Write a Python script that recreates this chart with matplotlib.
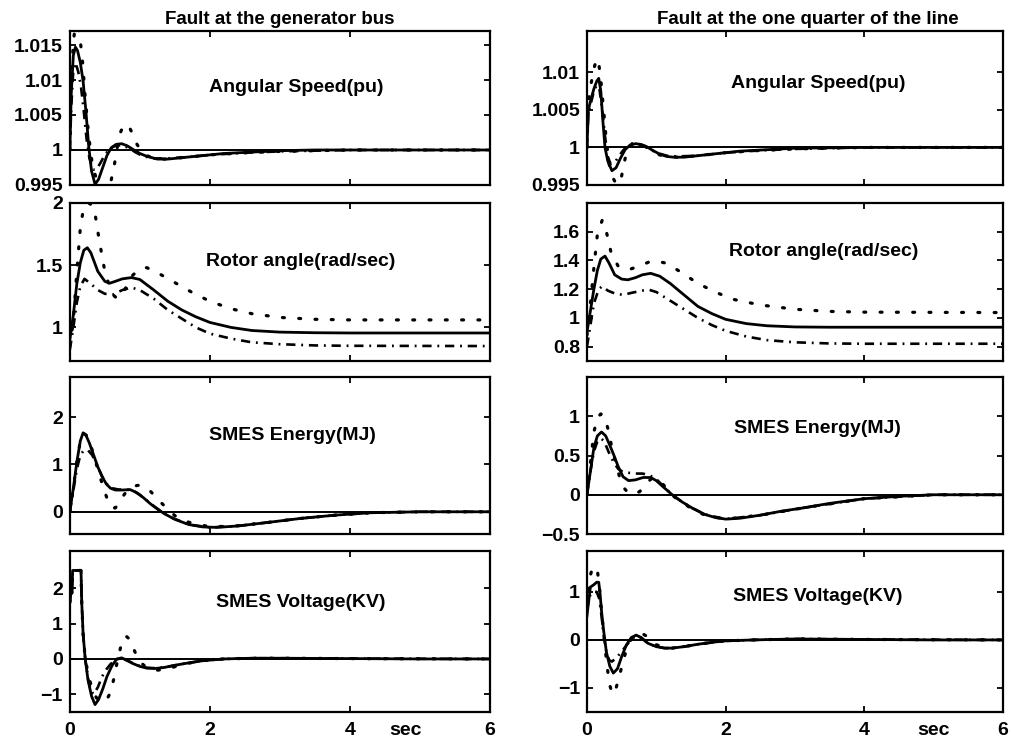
"""
SMES transient response: fault at generator bus vs fault at one quarter of the line.
"""

import matplotlib
matplotlib.use('Agg')
import matplotlib.pyplot as plt
import matplotlib.transforms as mtransforms

plt.rcParams['font.family'] = ['Liberation Sans', 'DejaVu Sans']
plt.rcParams['font.weight'] = 'bold'

# ---------------- data ----------------
# Left column: fault at the generator bus
t_L1_solid = [0, 0.02, 0.05, 0.08, 0.11, 0.15, 0.19, 0.23, 0.27, 0.31, 0.36, 0.41, 0.47, 0.53, 0.59, 0.66,
              0.74, 0.82, 0.9, 1.0, 1.1, 1.25, 1.4, 1.6, 1.9, 2.2, 2.6, 3.0, 3.5, 4.0, 5.0, 6.0]
L1_solid = [1.0, 1.008, 1.0135, 1.0147, 1.0142, 1.0125, 1.0098, 1.0055, 1.0005, 0.997, 0.9951, 0.9958, 0.9975,
            0.9992, 1.0003, 1.0008, 1.0009, 1.0006, 1.0001, 0.9995, 0.9991, 0.9987, 0.9987, 0.9989, 0.9992,
            0.9995, 0.9997, 0.9999, 1.0, 1.0, 1.0, 1.0]
t_L1_dashdot = [0, 0.02, 0.05, 0.08, 0.12, 0.16, 0.2, 0.24, 0.28, 0.33, 0.38, 0.44, 0.5, 0.57, 0.65, 0.74,
                0.84, 0.95, 1.05, 1.2, 1.4, 1.7, 2.0, 2.5, 3.0, 4.0, 6.0]
L1_dashdot = [1.0, 1.006, 1.0115, 1.0125, 1.0112, 1.009, 1.0055, 1.0015, 0.9988, 0.9972, 0.9972, 0.9982,
              0.9993, 1.0002, 1.0006, 1.0007, 1.0003, 0.9996, 0.9991, 0.9988, 0.9988, 0.999, 0.9993, 0.9996,
              0.9998, 1.0, 1.0]
t_L1_dotted = [0, 0.02, 0.05, 0.08, 0.11, 0.14, 0.18, 0.22, 0.27, 0.32, 0.38, 0.45, 0.52, 0.58, 0.63, 0.68,
               0.73, 0.78, 0.84, 0.9, 0.96, 1.02, 1.1, 1.2, 1.35, 1.6, 2.0, 2.5, 3.0, 4.0, 6.0]
L1_dotted = [1.0, 1.009, 1.0155, 1.0178, 1.0178, 1.0165, 1.0128, 1.0075, 1.002, 0.998, 0.9958, 0.9947,
             0.9942, 0.9952, 0.9975, 1.0005, 1.0027, 1.0036, 1.0035, 1.0022, 1.0008, 0.9999, 0.9992, 0.9988,
             0.9987, 0.9989, 0.9993, 0.9996, 0.9998, 1.0, 1.0]

t_L2_solid = [0, 0.05, 0.1, 0.15, 0.2, 0.25, 0.3, 0.4, 0.5, 0.57, 0.65, 0.75, 0.88, 1.0, 1.2, 1.4, 1.6, 1.8,
              2.0, 2.3, 2.6, 3.0, 3.5, 4.0, 6.0]
L2_solid = [0.9, 1.1, 1.35, 1.52, 1.62, 1.64, 1.6, 1.45, 1.37, 1.355, 1.37, 1.39, 1.4, 1.385, 1.3, 1.21, 1.14,
            1.085, 1.04, 1.0, 0.975, 0.962, 0.957, 0.955, 0.955]
t_L2_dashdot = [0, 0.05, 0.1, 0.15, 0.21, 0.3, 0.4, 0.5, 0.62, 0.75, 0.88, 1.0, 1.2, 1.4, 1.6, 1.8, 2.0, 2.3,
                2.6, 3.0, 3.5, 4.0, 6.0]
L2_dashdot = [0.82, 1.0, 1.2, 1.33, 1.39, 1.35, 1.3, 1.27, 1.265, 1.3, 1.32, 1.3, 1.23, 1.14, 1.07, 1.0, 0.95,
              0.91, 0.88, 0.865, 0.855, 0.852, 0.85]
t_L2_dotted = [0, 0.05, 0.1, 0.15, 0.2, 0.28, 0.35, 0.42, 0.5, 0.6, 0.68, 0.78, 0.9, 1.0, 1.1, 1.25, 1.5, 1.75,
               2.0, 2.3, 2.6, 3.0, 3.5, 4.0, 6.0]
L2_dotted = [0.85, 1.05, 1.45, 1.8, 1.97, 2.0, 1.95, 1.7, 1.45, 1.27, 1.23, 1.3, 1.42, 1.47, 1.48, 1.44, 1.36,
             1.28, 1.21, 1.15, 1.11, 1.08, 1.065, 1.06, 1.06]

t_L3_solid = [0, 0.05, 0.1, 0.15, 0.19, 0.23, 0.28, 0.34, 0.4, 0.46, 0.52, 0.58, 0.65, 0.75, 0.86, 0.95, 1.05,
              1.15, 1.25, 1.35, 1.5, 1.7, 1.9, 2.1, 2.4, 2.8, 3.3, 3.8, 4.3, 5.0, 6.0]
L3_solid = [0, 0.5, 1.05, 1.5, 1.67, 1.62, 1.45, 1.2, 0.95, 0.75, 0.59, 0.5, 0.46, 0.46, 0.47, 0.41, 0.3, 0.17,
            0.06, -0.04, -0.16, -0.27, -0.32, -0.33, -0.3, -0.23, -0.14, -0.07, -0.02, 0, 0]
t_L3_dashdot = [0, 0.05, 0.1, 0.15, 0.2, 0.26, 0.32, 0.4, 0.46, 0.52, 0.6, 0.7, 0.8, 0.9, 1.0, 1.1, 1.2, 1.3,
                1.45, 1.7, 2.0, 2.4, 2.8, 3.3, 3.8, 4.3, 5.0, 6.0]
L3_dashdot = [0, 0.45, 0.9, 1.2, 1.3, 1.3, 1.2, 0.95, 0.75, 0.6, 0.5, 0.47, 0.47, 0.45, 0.36, 0.24, 0.12, 0.01,
              -0.12, -0.27, -0.33, -0.3, -0.23, -0.14, -0.07, -0.02, 0, 0]
t_L3_dotted = [0, 0.05, 0.1, 0.15, 0.2, 0.25, 0.3, 0.36, 0.42, 0.48, 0.54, 0.6, 0.65, 0.7, 0.76, 0.82, 0.9,
               0.98, 1.06, 1.14, 1.22, 1.3, 1.4, 1.5, 1.6, 1.8, 2.0, 2.3, 2.8, 3.3, 3.8, 4.3, 5.0, 6.0]
L3_dotted = [0, 0.5, 1.05, 1.5, 1.66, 1.6, 1.4, 1.1, 0.8, 0.5, 0.25, 0.09, 0.08, 0.18, 0.33, 0.45, 0.54, 0.56,
             0.53, 0.45, 0.33, 0.2, 0.05, -0.08, -0.17, -0.27, -0.31, -0.31, -0.23, -0.14, -0.07, -0.02, 0, 0]

t_L4_solid = [0, 0.02, 0.03, 0.04, 0.16, 0.17, 0.19, 0.22, 0.26, 0.31, 0.36, 0.41, 0.47, 0.53, 0.6, 0.67, 0.74,
              0.82, 0.9, 1.0, 1.1, 1.22, 1.35, 1.5, 1.7, 1.9, 2.2, 2.6, 3.0, 4.0, 5.0, 6.0]
L4_solid = [1.6, 2.0, 1.85, 2.5, 2.5, 1.6, 0.7, 0.0, -0.6, -1.05, -1.29, -1.15, -0.85, -0.5, -0.2, 0.0, 0.03,
            -0.04, -0.13, -0.21, -0.26, -0.27, -0.24, -0.18, -0.11, -0.05, 0.0, 0.02, 0.02, 0.01, 0, 0]
t_L4_dashdot = [0, 0.02, 0.03, 0.04, 0.16, 0.17, 0.19, 0.22, 0.26, 0.3, 0.34, 0.4, 0.46, 0.52, 0.58, 0.65,
                0.72, 0.8, 0.9, 1.0, 1.1, 1.22, 1.35, 1.5, 1.7, 1.9, 2.2, 2.6, 3.0, 4.0, 6.0]
L4_dashdot = [1.6, 2.0, 1.85, 2.5, 2.5, 1.6, 0.7, 0.0, -0.55, -0.9, -1.0, -0.8, -0.5, -0.3, -0.15, -0.03, 0.02,
              -0.03, -0.12, -0.2, -0.25, -0.26, -0.24, -0.18, -0.11, -0.05, 0, 0.02, 0.02, 0.01, 0]
t_L4_dotted = [0, 0.02, 0.03, 0.04, 0.16, 0.17, 0.19, 0.22, 0.27, 0.32, 0.38, 0.45, 0.52, 0.58, 0.63, 0.68,
               0.74, 0.8, 0.86, 0.93, 1.0, 1.1, 1.22, 1.35, 1.5, 1.7, 1.9, 2.2, 2.6, 3.0, 4.0, 6.0]
L4_dotted = [1.6, 2.0, 1.85, 2.5, 2.5, 1.6, 0.7, 0.0, -0.5, -0.85, -1.1, -1.2, -1.18, -0.95, -0.55, -0.05, 0.45,
             0.65, 0.55, 0.2, -0.08, -0.25, -0.32, -0.3, -0.22, -0.12, -0.05, 0.0, 0.02, 0.02, 0.01, 0]

# Right column: fault at one quarter of the line
t_R1_solid = [0, 0.02, 0.06, 0.1, 0.14, 0.17, 0.2, 0.23, 0.26, 0.3, 0.36, 0.42, 0.48, 0.55, 0.62, 0.7, 0.78,
              0.86, 0.95, 1.05, 1.15, 1.25, 1.4, 1.6, 1.9, 2.2, 2.6, 3.0, 4.0, 6.0]
R1_solid = [1.0, 1.005, 1.0065, 1.0078, 1.0088, 1.0092, 1.0075, 1.0035, 1.0, 0.9982, 0.9969, 0.9973, 0.9985,
            0.9997, 1.0003, 1.0005, 1.0004, 1.0001, 0.9996, 0.9991, 0.9988, 0.9987, 0.9987, 0.9989, 0.9992,
            0.9995, 0.9997, 0.9999, 1.0, 1.0]
t_R1_dashdot = [0, 0.02, 0.06, 0.1, 0.14, 0.18, 0.22, 0.26, 0.3, 0.34, 0.4, 0.46, 0.52, 0.6, 0.7, 0.8, 0.9,
                1.0, 1.15, 1.3, 1.6, 2.0, 2.5, 3.0, 4.0, 6.0]
R1_dashdot = [1.0, 1.0045, 1.006, 1.0075, 1.0083, 1.0078, 1.005, 1.0015, 0.9988, 0.9978, 0.998, 0.9988, 0.9996,
              1.0003, 1.0005, 1.0003, 0.9998, 0.9993, 0.9989, 0.9988, 0.9989, 0.9993, 0.9996, 0.9998, 1.0, 1.0]
t_R1_dotted = [0, 0.02, 0.06, 0.1, 0.14, 0.17, 0.2, 0.24, 0.28, 0.32, 0.37, 0.42, 0.46, 0.5, 0.55, 0.6, 0.66,
               0.72, 0.8, 0.88, 0.96, 1.05, 1.15, 1.3, 1.6, 2.0, 2.5, 3.0, 4.0, 6.0]
R1_dotted = [1.0, 1.006, 1.0085, 1.0105, 1.0118, 1.0112, 1.009, 1.005, 1.0008, 0.9978, 0.996, 0.9952, 0.9951,
             0.9962, 0.9985, 0.9999, 1.0006, 1.0007, 1.0004, 0.9999, 0.9994, 0.999, 0.9988, 0.9987, 0.9989,
             0.9993, 0.9996, 0.9998, 1.0, 1.0]

t_R2_solid = [0, 0.05, 0.1, 0.15, 0.2, 0.26, 0.32, 0.4, 0.5, 0.59, 0.7, 0.8, 0.92, 1.05, 1.2, 1.4, 1.6, 1.8,
              2.0, 2.3, 2.6, 3.0, 3.5, 6.0]
R2_solid = [0.9, 1.05, 1.2, 1.33, 1.41, 1.43, 1.38, 1.3, 1.27, 1.265, 1.28, 1.3, 1.31, 1.29, 1.24, 1.16, 1.08,
            1.03, 0.99, 0.96, 0.945, 0.937, 0.935, 0.935]
t_R2_dashdot = [0, 0.05, 0.1, 0.17, 0.22, 0.3, 0.4, 0.52, 0.65, 0.8, 0.9, 1.0, 1.2, 1.4, 1.6, 1.8, 2.0, 2.3,
                2.6, 3.0, 3.5, 4.0, 6.0]
R2_dashdot = [0.8, 0.95, 1.1, 1.2, 1.22, 1.19, 1.17, 1.16, 1.175, 1.19, 1.195, 1.18, 1.12, 1.06, 1.0, 0.95,
              0.91, 0.87, 0.845, 0.83, 0.822, 0.82, 0.82]
t_R2_dotted = [0, 0.05, 0.1, 0.15, 0.22, 0.28, 0.35, 0.45, 0.6, 0.75, 0.9, 1.0, 1.15, 1.35, 1.6, 1.85, 2.1,
               2.5, 3.0, 3.5, 4.0, 6.0]
R2_dotted = [0.88, 1.1, 1.35, 1.58, 1.68, 1.6, 1.45, 1.36, 1.335, 1.36, 1.39, 1.395, 1.38, 1.32, 1.24, 1.18,
             1.13, 1.09, 1.06, 1.045, 1.04, 1.037]

t_R3_solid = [0, 0.05, 0.1, 0.15, 0.21, 0.27, 0.33, 0.39, 0.45, 0.52, 0.6, 0.7, 0.81, 0.92, 1.0, 1.1, 1.23,
              1.37, 1.52, 1.7, 1.85, 2.0, 2.2, 2.5, 2.8, 3.1, 3.5, 4.0, 4.5, 5.0, 6.0]
R3_solid = [0, 0.3, 0.6, 0.75, 0.8, 0.75, 0.63, 0.5, 0.36, 0.23, 0.18, 0.19, 0.22, 0.22, 0.18, 0.1, 0.0, -0.09,
            -0.17, -0.25, -0.29, -0.31, -0.3, -0.26, -0.21, -0.17, -0.11, -0.05, -0.02, 0, 0]
t_R3_dashdot = [0, 0.05, 0.1, 0.15, 0.2, 0.25, 0.31, 0.38, 0.45, 0.52, 0.6, 0.7, 0.8, 0.9, 1.0, 1.1, 1.23,
                1.37, 1.52, 1.7, 2.0, 2.5, 3.1, 4.0, 5.0, 6.0]
R3_dashdot = [0, 0.3, 0.55, 0.68, 0.72, 0.68, 0.55, 0.42, 0.33, 0.29, 0.28, 0.27, 0.27, 0.25, 0.2, 0.11, 0.0,
              -0.09, -0.17, -0.25, -0.31, -0.26, -0.17, -0.05, 0, 0]
t_R3_dotted = [0, 0.05, 0.1, 0.15, 0.2, 0.25, 0.3, 0.36, 0.42, 0.48, 0.54, 0.6, 0.68, 0.76, 0.84, 0.92, 1.0,
               1.08, 1.16, 1.25, 1.37, 1.52, 1.7, 2.0, 2.5, 3.1, 4.0, 5.0, 6.0]
R3_dotted = [0, 0.4, 0.8, 0.98, 1.03, 1.0, 0.85, 0.6, 0.38, 0.2, 0.08, 0.02, 0.01, 0.04, 0.12, 0.2, 0.21, 0.15,
             0.07, -0.02, -0.1, -0.18, -0.26, -0.31, -0.26, -0.17, -0.05, 0, 0]

t_R4_solid = [0, 0.02, 0.05, 0.1, 0.14, 0.17, 0.19, 0.21, 0.24, 0.28, 0.33, 0.38, 0.44, 0.5, 0.57, 0.64, 0.71,
              0.78, 0.88, 1.0, 1.12, 1.23, 1.4, 1.6, 1.8, 2.0, 2.4, 3.0, 4.0, 5.0, 6.0]
R4_solid = [0.5, 0.75, 1.1, 1.15, 1.2, 1.2, 0.95, 0.6, 0.2, -0.25, -0.55, -0.69, -0.6, -0.35, -0.1, 0.05, 0.1,
            0.05, -0.07, -0.14, -0.17, -0.17, -0.14, -0.09, -0.05, -0.02, 0.0, 0.02, 0.01, 0, 0]
t_R4_dashdot = [0, 0.02, 0.05, 0.1, 0.14, 0.18, 0.21, 0.24, 0.28, 0.32, 0.36, 0.42, 0.48, 0.55, 0.62, 0.7,
                0.78, 0.88, 1.0, 1.12, 1.23, 1.4, 1.6, 2.0, 2.4, 3.0, 4.0, 6.0]
R4_dashdot = [0.6, 0.8, 0.95, 1.0, 1.0, 0.85, 0.5, 0.1, -0.25, -0.42, -0.45, -0.38, -0.28, -0.15, -0.02, 0.08,
              0.05, -0.07, -0.14, -0.17, -0.17, -0.14, -0.09, -0.02, 0.0, 0.02, 0.01, 0]
t_R4_dotted = [0, 0.02, 0.05, 0.08, 0.12, 0.15, 0.18, 0.21, 0.25, 0.29, 0.33, 0.37, 0.41, 0.46, 0.52, 0.58,
               0.64, 0.72, 0.8, 0.86, 0.92, 1.0, 1.12, 1.23, 1.4, 1.6, 1.8, 2.0, 2.4, 3.0, 4.0, 6.0]
R4_dotted = [0.7, 1.0, 1.35, 1.5, 1.52, 1.45, 1.1, 0.6, 0.0, -0.55, -0.95, -1.13, -1.05, -0.8, -0.45, -0.15,
             0.02, 0.12, 0.13, 0.08, -0.02, -0.1, -0.16, -0.17, -0.14, -0.09, -0.05, -0.02, 0, 0.02, 0.01, 0]

column_titles = ['Fault at the generator bus', 'Fault at the one quarter of the line']
panel_labels = ['Angular Speed(pu)', 'Rotor angle(rad/sec)', 'SMES Energy(MJ)', 'SMES Voltage(KV)']
x_ticks = [0, 2, 4, 6]
x_ticklabels = ['0', '2', '4', '6']

# ---------------- layout ----------------
fig = plt.figure(figsize=(10.12, 7.42), dpi=100)

col_x = [0.069, 0.580]
col_w = [0.415, 0.411]
row_y = [0.7507, 0.5135, 0.2803, 0.0404]
row_h = [0.2075, 0.213, 0.2116, 0.217]

panels = {
    (0, 0): dict(curves=[(t_L1_solid, L1_solid), (t_L1_dashdot, L1_dashdot), (t_L1_dotted, L1_dotted)],
                 ylim=(0.995, 1.017), yticks=[0.995, 1.0, 1.005, 1.01, 1.015],
                 yticklabels=['0.995', '1', '1.005', '1.01', '1.015'], ref=1.0, lab=(0.54, 0.63)),
    (1, 0): dict(curves=[(t_L2_solid, L2_solid), (t_L2_dashdot, L2_dashdot), (t_L2_dotted, L2_dotted)],
                 ylim=(0.73, 2.0), yticks=[1.0, 1.5, 2.0], yticklabels=['1', '1.5', '2'], ref=None,
                 lab=(0.55, 0.63)),
    (2, 0): dict(curves=[(t_L3_solid, L3_solid), (t_L3_dashdot, L3_dashdot), (t_L3_dotted, L3_dotted)],
                 ylim=(-0.47, 2.85), yticks=[0, 1, 2], yticklabels=['0', '1', '2'], ref=0.0,
                 lab=(0.53, 0.63)),
    (3, 0): dict(curves=[(t_L4_solid, L4_solid), (t_L4_dashdot, L4_dashdot), (t_L4_dotted, L4_dotted)],
                 ylim=(-1.5, 3.05), yticks=[-1, 0, 1, 2], yticklabels=['\u22121', '0', '1', '2'], ref=0.0,
                 lab=(0.55, 0.68)),
    (0, 1): dict(curves=[(t_R1_solid, R1_solid), (t_R1_dashdot, R1_dashdot), (t_R1_dotted, R1_dotted)],
                 ylim=(0.995, 1.0155), yticks=[0.995, 1.0, 1.005, 1.01],
                 yticklabels=['0.995', '1', '1.005', '1.01'], ref=1.0, lab=(0.555, 0.66)),
    (1, 1): dict(curves=[(t_R2_solid, R2_solid), (t_R2_dashdot, R2_dashdot), (t_R2_dotted, R2_dotted)],
                 ylim=(0.7, 1.8), yticks=[0.8, 1.0, 1.2, 1.4, 1.6],
                 yticklabels=['0.8', '1', '1.2', '1.4', '1.6'], ref=None, lab=(0.57, 0.69)),
    (2, 1): dict(curves=[(t_R3_solid, R3_solid), (t_R3_dashdot, R3_dashdot), (t_R3_dotted, R3_dotted)],
                 ylim=(-0.5, 1.5), yticks=[-0.5, 0, 0.5, 1], yticklabels=['\u22120.5', '0', '0.5', '1'],
                 ref=0.0, lab=(0.555, 0.675)),
    (3, 1): dict(curves=[(t_R4_solid, R4_solid), (t_R4_dashdot, R4_dashdot), (t_R4_dotted, R4_dotted)],
                 ylim=(-1.5, 1.85), yticks=[-1, 0, 1], yticklabels=['\u22121', '0', '1'], ref=0.0,
                 lab=(0.555, 0.72)),
}

# line styles: solid, dash-dot, dotted
styles = [dict(linestyle='-', linewidth=2.0),
          dict(linestyle=(0, (3.5, 2.2, 0.7, 2.2)), linewidth=1.9),
          dict(linestyle=(0, (0.6, 4.5)), linewidth=2.3, dash_capstyle='round')]

for (row, col), p in panels.items():
    ax = fig.add_axes([col_x[col], row_y[row], col_w[col], row_h[row]])
    if p['ref'] is not None:
        ax.axhline(p['ref'], color='black', linewidth=1.4)
    for (tt, yy), st in zip(p['curves'], styles):
        ax.plot(tt, yy, color='black', **st)

    ax.set_xlim(0, 6)
    ax.set_ylim(*p['ylim'])
    ax.set_xticks(x_ticks)
    ax.set_yticks(p['yticks'])
    ax.set_yticklabels(p['yticklabels'])
    if row == 3:
        ax.set_xticklabels(x_ticklabels)
    else:
        ax.set_xticklabels([])
    ax.tick_params(direction='in', top=True, right=True, length=4, width=1.3, labelsize=14)
    ax.tick_params(axis='y', pad=5)
    ax.tick_params(axis='x', pad=7)
    for lab in ax.get_xticklabels() + ax.get_yticklabels():
        lab.set_fontweight('bold')
    for sp in ax.spines.values():
        sp.set_linewidth(1.6)

    ax.text(p['lab'][0], p['lab'][1], panel_labels[row], transform=ax.transAxes,
            ha='center', va='center', fontsize=14, fontweight='bold')

    if row == 0:
        ax.set_title(column_titles[col], fontsize=13.5, fontweight='bold', pad=5,
                     x=0.5 if col == 0 else 0.53)
    if row == 3:
        trans = mtransforms.blended_transform_factory(ax.transData, ax.transAxes)
        sec_x = 4.8 if col == 0 else 5.0
        ax.text(sec_x, -0.06, 'sec', transform=trans, ha='center', va='top',
                fontsize=14, fontweight='bold')

plt.savefig('out.png', dpi=100)
plt.close()
